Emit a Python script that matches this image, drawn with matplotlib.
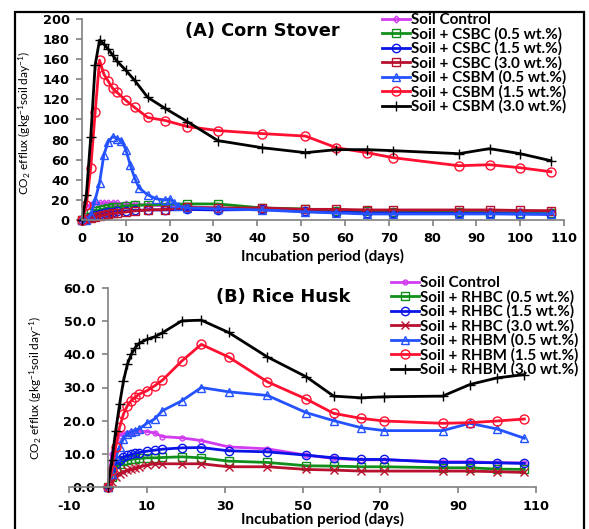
import matplotlib
matplotlib.use("Agg")
import matplotlib.pyplot as plt
from matplotlib.patches import Rectangle
from matplotlib.font_manager import FontProperties

plt.rcParams['mathtext.fontset'] = 'custom'
plt.rcParams['mathtext.rm'] = 'Lato'
plt.rcParams['mathtext.it'] = 'Lato:italic'
plt.rcParams['mathtext.bf'] = 'Lato:bold'
plt.rcParams['axes.unicode_minus'] = False

# ---------------- Panel A data (Corn Stover) ----------------
days_a = [0, 1, 2, 3, 4, 5, 6, 7, 8, 10, 12, 15, 19, 24, 31, 41, 51, 58, 65, 71, 86, 93, 100, 107]
days_a_dense = [0, 1, 2, 3, 4, 5, 6, 7, 8, 9, 10, 11, 12, 13, 15, 17, 19, 20, 21, 22, 24,
                31, 41, 51, 58, 65, 71, 86, 93, 100, 107]

a_soil_control = [0, 13, 15, 16, 16.5, 17, 17, 17, 16.5, 16, 15.5, 15, 14, 13, 12, 11, 10, 9.5, 9, 9, 9, 9, 8.5, 8.5]
a_csbc_05 = [0, 3, 7, 9, 10, 11, 12, 12.5, 13, 14, 14.5, 15, 15.5, 16, 16, 12, 11, 9, 8.5, 8, 7.5, 7.3, 7, 7]
a_csbc_15 = [0, 1, 3, 5, 6, 7, 7.5, 8, 8.5, 9, 9.5, 10, 10, 10.5, 10, 10.5, 8.5, 7.7, 7, 7, 6.6, 6.5, 6, 5.6]
a_csbc_30 = [0, 1, 2, 3, 4, 5, 6, 6.5, 7, 8, 9, 10, 10.4, 12.5, 12, 12, 10.6, 10.6, 10, 10, 10, 10, 9.5, 9.3]
a_csbm_05 = [0, 0, 5, 20, 37, 65, 78, 83, 81, 79, 70, 55, 42, 32, 25, 21, 20, 21, 17, 14, 12,
             11, 10, 8, 7, 6, 6, 6, 6, 6, 6]
a_csbm_15 = [0, 15, 52, 107, 159, 145, 138, 131, 127, 119, 112, 102, 99, 93, 89, 86, 83.5, 72, 67, 62, 54, 55, 52, 48]
a_csbm_30 = [0, 25, 83, 154, 179, 175, 170, 164, 158, 149, 139, 122, 111, 98, 79, 72, 67, 70, 70, 69, 66, 71, 66, 59]

labels_a = ["Soil Control", "Soil + CSBC (0.5 wt.%)", "Soil + CSBC (1.5 wt.%)",
            "Soil + CSBC (3.0 wt.%)", "Soil + CSBM (0.5 wt.%)", "Soil + CSBM (1.5 wt.%)",
            "Soil + CSBM (3.0 wt.%)"]

# ---------------- Panel B data (Rice Husk) ----------------
days_b = [0, 1, 2, 3, 4, 5, 6, 7, 8, 10, 12, 14, 19, 24, 31, 41, 51, 58, 65, 71, 86, 93, 100, 107]

b_soil_control = [0, 10, 14, 15.5, 16, 16.2, 16.5, 16.8, 16.8, 16.7, 16.3, 15.2, 14.8, 14, 12.1, 11.5, 9.6, 8.6, 8.2, 8.2, 7.6, 7.6, 7.3, 7.3]
b_rhbc_05 = [0, 3, 5.5, 7, 7.8, 8.1, 8.3, 8.5, 8.6, 8.8, 8.8, 8.9, 9.1, 8.8, 7.8, 7.4, 6.4, 6.3, 6.1, 6.1, 5.8, 5.8, 5.4, 5.3]
b_rhbc_15 = [0, 4, 7, 8, 9, 9.5, 9.8, 10.2, 10.4, 10.8, 11.1, 11.4, 11.8, 11.9, 10.9, 10.6, 9.6, 8.8, 8.3, 8.3, 7.4, 7.4, 7.3, 7.1]
b_rhbc_30 = [0, 1.5, 3, 4, 4.6, 5, 5.3, 5.7, 6, 6.6, 7, 7, 7, 7, 6.1, 6.1, 5.3, 5.1, 4.8, 4.8, 4.8, 4.8, 4.6, 4.4]
b_rhbm_05 = [0, 4, 9, 12, 14.5, 16, 16.5, 17, 17.5, 19.2, 20.5, 23, 26, 30, 28.7, 27.6, 22.4, 20, 17.9, 17, 17, 19.2, 17.5, 14.7]
b_rhbm_15 = [0, 5, 12, 18, 22, 24.5, 26, 27, 28, 29, 30.5, 32.2, 38, 43, 39.2, 31.7, 26.5, 22.2, 20.7, 19.9, 19.2, 19.4, 19.9, 20.5]
b_rhbm_30 = [0, 8, 17, 25, 32, 37, 40, 42, 43.3, 44.5, 45.3, 46.5, 50.1, 50.3, 46.6, 39.2, 33.2, 27.4, 26.9, 27.2, 27.4, 30.9, 32.9, 33.9]

labels_b = ["Soil Control", "Soil + RHBC (0.5 wt.%)", "Soil + RHBC (1.5 wt.%)",
            "Soil + RHBC (3.0 wt.%)", "Soil + RHBM (0.5 wt.%)", "Soil + RHBM (1.5 wt.%)",
            "Soil + RHBM (3.0 wt.%)"]

colors = ['#D23CF0', '#10901A', '#0A14E6', '#B8102E', '#2452FF', '#FF1030', '#000000']
markers_a = ['D', 's', 'o', 's', '^', 'o', '+']
markers_b = ['o', 's', 'o', 'x', '^', 'o', '+']
msizes = [3.5, 5.5, 6, 5.5, 5.5, 6.5, 7]

W, H = 589, 529
fig = plt.figure(figsize=(W / 100, H / 100), dpi=100)

def fx(px):
    return px / W

def fy(py):
    return 1 - py / H

tick_fp = FontProperties(family='DejaVu Sans', weight='bold', size=9.3)
label_font = ['Lato', 'DejaVu Sans']
spine_col = '#808080'

def style_axes(ax):
    for s in ['top', 'right']:
        ax.spines[s].set_visible(False)
    for s in ['left', 'bottom']:
        ax.spines[s].set_color(spine_col)
        ax.spines[s].set_linewidth(1.2)
    ax.tick_params(axis='both', direction='out', length=4, width=1.2, color=spine_col, pad=5)
    for lab in ax.get_xticklabels() + ax.get_yticklabels():
        lab.set_fontproperties(tick_fp)

# ---------------- Panel A ----------------
axA = fig.add_axes([fx(82), fy(220), fx(564) - fx(82), fy(19) - fy(220)])
series_a = [a_soil_control, a_csbc_05, a_csbc_15, a_csbc_30, a_csbm_05, a_csbm_15, a_csbm_30]
handles_a = []
for i, vals in enumerate(series_a):
    xs = days_a_dense if i == 4 else days_a
    ln, = axA.plot(xs, vals, color=colors[i], marker=markers_a[i], markersize=msizes[i],
                   markerfacecolor='none', markeredgewidth=1.0, linewidth=2.0,
                   label=labels_a[i], clip_on=False)
    handles_a.append(ln)
axA.set_xlim(0, 110)
axA.set_ylim(0, 200)
axA.set_xticks(range(0, 111, 10))
axA.set_yticks(range(0, 201, 20))
style_axes(axA)

# ---------------- Panel B ----------------
axB = fig.add_axes([fx(69), fy(487), fx(536) - fx(69), fy(288) - fy(487)])
series_b = [b_soil_control, b_rhbc_05, b_rhbc_15, b_rhbc_30, b_rhbm_05, b_rhbm_15, b_rhbm_30]
handles_b = []
for i, vals in enumerate(series_b):
    ln, = axB.plot(days_b, vals, color=colors[i], marker=markers_b[i], markersize=msizes[i],
                   markerfacecolor='none', markeredgewidth=1.0, linewidth=2.0,
                   label=labels_b[i], clip_on=False)
    handles_b.append(ln)
axB.set_xlim(-10, 110)
axB.set_ylim(0, 60)
axB.set_xticks(range(-10, 111, 20))
axB.set_yticks(range(0, 61, 10))
axB.set_yticklabels(["%.1f" % v for v in range(0, 61, 10)])
axB.spines['left'].set_position(('data', 0))
style_axes(axB)

# ---------------- Texts ----------------
fig.text(fx(262), fy(31), "(A) Corn Stover", ha='center', va='center',
         family='DejaVu Sans', weight='bold', size=12.8)
fig.text(fx(283), fy(297), "(B) Rice Husk", ha='center', va='center',
         family='DejaVu Sans', weight='bold', size=12.8)

fig.text(fx(322), fy(256), "Incubation period (days)", ha='center', va='center',
         family=label_font, weight='bold', size=11)
fig.text(fx(322), fy(519), "Incubation period (days)", ha='center', va='center',
         family=label_font, weight='bold', size=11)

ylab = r"CO$_2$ efflux (gkg$^{-1}$soil day$^{-1}$)"
fig.text(fx(25), fy(123), ylab, rotation=90, ha='center', va='center',
         family=label_font, size=8.6)
fig.text(fx(36), fy(388), ylab, rotation=90, ha='center', va='center',
         family=label_font, size=8.6)

leg_kw = dict(loc='upper left', frameon=False, borderpad=0, borderaxespad=0,
              handlelength=1.8, handletextpad=0.1, labelspacing=0.0,
              bbox_transform=fig.transFigure,
              prop=dict(family=label_font, weight='bold', size=11))
legA = axA.legend(handles=handles_a, bbox_to_anchor=(fx(382), fy(13)), **leg_kw)
legB = axB.legend(handles=handles_b, bbox_to_anchor=(fx(391), fy(276)), **leg_kw)

# outer frame
fig.add_artist(Rectangle((fx(15), -0.1), fx(584) - fx(15), fy(12) + 0.1,
                         transform=fig.transFigure, fill=False, lw=1.6, color='black'))

fig.savefig("out.png", dpi=100)
